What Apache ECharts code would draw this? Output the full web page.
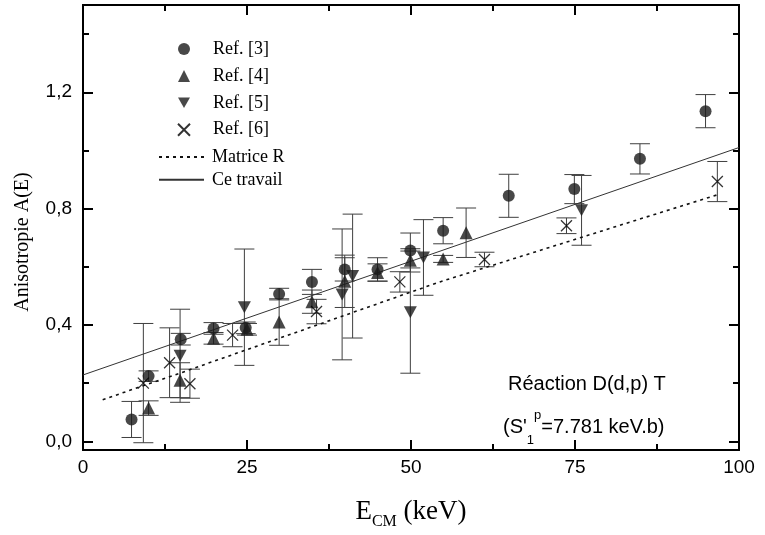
<!DOCTYPE html>
<html>
<head>
<meta charset="utf-8">
<script src="https://cdn.jsdelivr.net/npm/echarts@6/dist/echarts.min.js"></script>
<style>
html,body{margin:0;padding:0;background:#fff;}
#chart{width:765px;height:535px;}
</style>
</head>
<body>
<div id="chart"></div>
<script>
// ---- data ----
const ref3E   = [7.4, 10, 14.9, 19.9, 24.8, 29.9, 34.9, 39.9, 44.9, 49.9, 54.9, 64.9, 74.9, 84.9, 94.9];
const ref3A   = [0.075, 0.224, 0.351, 0.388, 0.39, 0.506, 0.548, 0.591, 0.591, 0.656, 0.724, 0.844, 0.867, 0.971, 1.135];
const ref3Err = [0.062, 0.018, 0.02, 0.02, 0.02, 0.02, 0.043, 0.04, 0.04, 0.06, 0.045, 0.074, 0.05, 0.052, 0.057];

const ref4E   = [10, 14.8, 19.9, 25, 29.9, 34.9, 39.9, 44.9, 49.9, 54.9, 58.4];
const ref4A   = [0.114, 0.21, 0.354, 0.385, 0.41, 0.48, 0.55, 0.58, 0.622, 0.627, 0.717];
const ref4Err = [0.025, 0.06, 0.02, 0.02, 0.08, 0.04, 0.09, 0.03, 0.04, 0.012, 0.085];

const ref5E   = [14.8, 24.6, 39.5, 41.1, 49.9, 51.9, 76.0];
const ref5A   = [0.294, 0.461, 0.505, 0.568, 0.444, 0.632, 0.794];
const ref5Err = [0.16, 0.2, 0.225, 0.213, 0.21, 0.13, 0.12];

const ref6E   = [9.2, 13.2, 16.3, 22.8, 35.6, 48.3, 61.2, 73.7, 96.7];
const ref6A   = [0.20, 0.27, 0.198, 0.365, 0.446, 0.548, 0.625, 0.741, 0.893];
const ref6Err = [0.205, 0.12, 0.05, 0.04, 0.042, 0.035, 0.025, 0.027, 0.069];

const fitE = [0, 100];
const fitA = [0.228, 1.01];

const rmE = [3, 15, 27, 54.4, 85, 96.8];
const rmA = [0.143, 0.236, 0.331, 0.548, 0.765, 0.848];

const yMajor = [0, 0.4, 0.8, 1.2];
const yMinor = [0.2, 0.6, 1.0, 1.4];

const names = ['Ref. [3]', 'Ref. [4]', 'Ref. [5]', 'Ref. [6]', 'Matrice R', 'Ce travail'];
const yTitle = 'Anisotropie A(E)';
const note1 = 'Réaction D(d,p) T';

// ---- helpers ----
const zip2 = (a, b) => a.map((v, i) => [v, b[i]]);
const zip3 = (a, b, c) => a.map((v, i) => [v, b[i], c[i]]);

const INK = '#1a1a1a';
const ERR = '#3f3f3f';
const serif = '"Liberation Serif", "DejaVu Serif", serif';
const sans = '"Liberation Sans", Arial, sans-serif';

function errRender(params, api) {
  const x = api.value(0), y = api.value(1), e = api.value(2);
  const p1 = api.coord([x, y + e]);
  const p2 = api.coord([x, y - e]);
  const hw = 10;
  const style = { stroke: ERR, lineWidth: 1 };
  return {
    type: 'group',
    children: [
      { type: 'line', shape: { x1: p1[0], y1: p1[1], x2: p2[0], y2: p2[1] }, style },
      { type: 'line', shape: { x1: p1[0] - hw, y1: p1[1], x2: p1[0] + hw, y2: p1[1] }, style },
      { type: 'line', shape: { x1: p2[0] - hw, y1: p2[1], x2: p2[0] + hw, y2: p2[1] }, style }
    ]
  };
}

function errSeries(E, A, S) {
  return {
    type: 'custom', renderItem: errRender, data: zip3(E, A, S),
    encode: { x: 0, y: 1 }, z: 2, silent: true
  };
}

const invTri = 'path://M0,0 L10,0 L5,8.66 Z';
const cross = 'path://M0,0 L10,10 M10,0 L0,10';

function yAxisDef(position, ticks, len, labels) {
  return {
    type: 'value', position, min: -0.03, max: 1.5,
    axisLine: { show: true, onZero: false, lineStyle: { color: '#000', width: 2 } },
    axisTick: { show: true, inside: true, length: len, customValues: ticks, lineStyle: { color: '#000', width: 2 } },
    axisLabel: labels ? {
      show: true, customValues: ticks, margin: 11, color: '#000',
      fontFamily: sans, fontSize: 19,
      formatter: v => v.toFixed(1).replace('.', ',')
    } : { show: false },
    splitLine: { show: false }
  };
}

function xAxisDef(position, labels) {
  return {
    type: 'value', position, min: 0, max: 100, interval: 25,
    axisLine: { show: true, onZero: false, lineStyle: { color: '#000', width: 2 } },
    axisTick: { show: true, inside: true, length: 10, lineStyle: { color: '#000', width: 2 } },
    minorTick: { show: true, splitNumber: 2, length: 6, lineStyle: { color: '#000', width: 2 } },
    axisLabel: labels ? { show: true, margin: 8, color: '#000', fontFamily: sans, fontSize: 19 } : { show: false },
    splitLine: { show: false },
    minorSplitLine: { show: false }
  };
}

const xBottom = xAxisDef('bottom', true);
xBottom.name = '{e|E}{s|CM}{e| (keV)}';
xBottom.nameLocation = 'middle';
xBottom.nameGap = 45;
xBottom.nameTextStyle = {
  rich: {
    e: { fontFamily: serif, fontSize: 27, color: '#000', verticalAlign: 'bottom', lineHeight: 30 },
    s: { fontFamily: serif, fontSize: 16, color: '#000', verticalAlign: 'bottom', padding: [0, 0, -5, 0], lineHeight: 30 }
  }
};

const chart = echarts.init(document.getElementById('chart'), null, { renderer: 'canvas' });
chart.setOption({
  animation: false,
  backgroundColor: '#fff',
  grid: { left: 83, right: 26, top: 5, bottom: 78, containLabel: false },
  xAxis: [xBottom, xAxisDef('top', false)],
  yAxis: [
    yAxisDef('left', yMajor, 10, true),
    yAxisDef('left', yMinor, 6, false),
    yAxisDef('right', yMajor, 10, false),
    yAxisDef('right', yMinor, 6, false)
  ],
  legend: [
    {
      data: names.slice(0, 4), orient: 'vertical', left: 177, top: 40,
      itemWidth: 12, itemHeight: 12, itemGap: 8.9, padding: 0, selectedMode: false,
      textStyle: { fontFamily: serif, fontSize: 18, color: '#000', padding: [0, 0, 0, 18] }
    },
    {
      data: names.slice(4), orient: 'vertical', left: 158, top: 148,
      itemWidth: 45, itemHeight: 14, itemGap: 4.8, padding: 0, selectedMode: false,
      itemStyle: { opacity: 0 },
      textStyle: { fontFamily: serif, fontSize: 18, color: '#000', padding: [0, 0, 0, 3] }
    }
  ],
  graphic: [
    {
      type: 'text', x: 23, y: 242, rotation: Math.PI / 2,
      style: { text: yTitle, font: '20px ' + serif, fill: '#000', align: 'center', verticalAlign: 'middle' }
    },
    {
      type: 'text', left: 508, top: 374,
      style: { text: note1, font: '20px ' + sans, fill: '#000' }
    },
    {
      type: 'text', left: 503, top: 409,
      style: {
        text: '{n|(S\'}{b|1}{t|p}{n|=7.781 keV.b)}',
        rich: {
          n: { fontFamily: sans, fontSize: 20, fill: '#000', lineHeight: 28, verticalAlign: 'middle' },
          b: { fontFamily: sans, fontSize: 13, fill: '#000', lineHeight: 28, verticalAlign: 'bottom', padding: [0, 0, -6, 0] },
          t: { fontFamily: sans, fontSize: 13, fill: '#000', lineHeight: 28, verticalAlign: 'top', padding: [-4, 0, 0, 0] }
        }
      }
    }
  ],
  series: [
    errSeries(ref3E, ref3A, ref3Err),
    errSeries(ref4E, ref4A, ref4Err),
    errSeries(ref5E, ref5A, ref5Err),
    errSeries(ref6E, ref6A, ref6Err),
    {
      name: names[4], type: 'line', data: zip2(rmE, rmA), symbol: 'none', showSymbol: false,
      lineStyle: { color: '#111', width: 1.6, type: [3, 4] }, itemStyle: { color: '#111' }, z: 3
    },
    {
      name: names[5], type: 'line', data: zip2(fitE, fitA), symbol: 'none', showSymbol: false,
      lineStyle: { color: '#333', width: 1 }, itemStyle: { color: '#333' }, z: 3
    },
    {
      name: names[0], type: 'scatter', data: zip2(ref3E, ref3A), symbol: 'circle', symbolSize: 12,
      itemStyle: { color: INK }, z: 5
    },
    {
      name: names[1], type: 'scatter', data: zip2(ref4E, ref4A), symbol: 'triangle', symbolSize: 13,
      itemStyle: { color: INK }, z: 5
    },
    {
      name: names[2], type: 'scatter', data: zip2(ref5E, ref5A), symbol: invTri, symbolSize: [13, 12],
      itemStyle: { color: INK }, z: 5
    },
    {
      name: names[3], type: 'scatter', data: zip2(ref6E, ref6A), symbol: cross, symbolSize: 11,
      itemStyle: { color: 'rgba(0,0,0,0)', borderColor: '#000', borderWidth: 1.3 }, z: 5
    }
  ]
});
</script>
</body>
</html>
